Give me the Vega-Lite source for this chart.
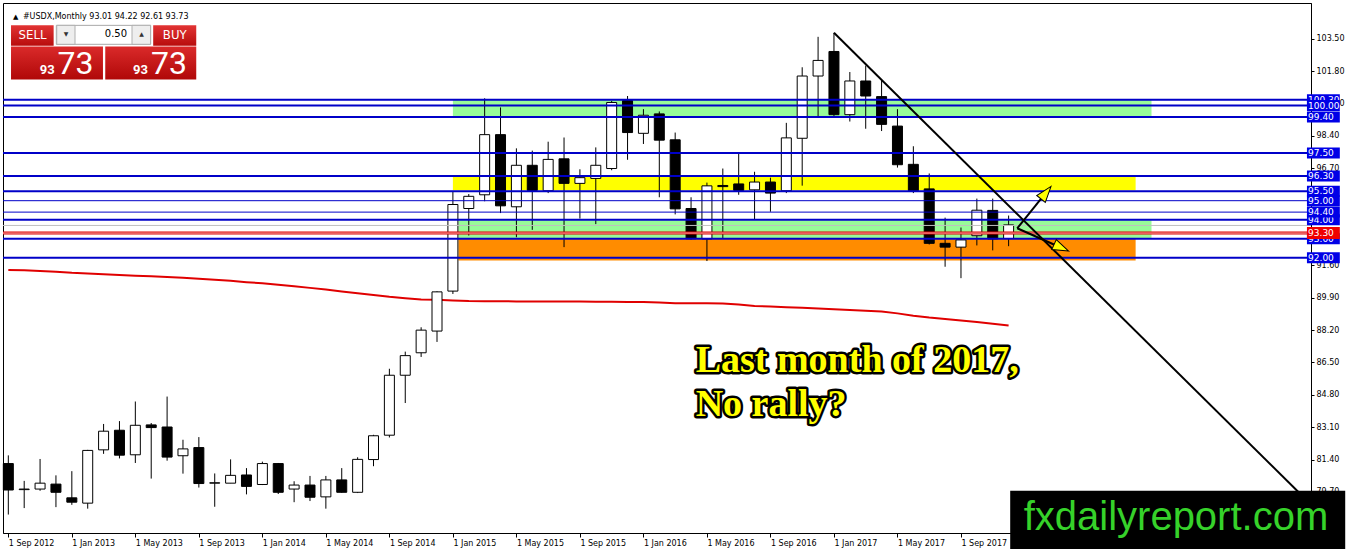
{
  "$schema": "https://vega.github.io/schema/vega-lite/v6.json",
  "width": 1308,
  "height": 530,
  "autosize": {"type": "none"},
  "padding": {"left": 3, "top": 3, "right": 39, "bottom": 21},
  "background": "white",
  "config": {
    "view": {"stroke": "black", "strokeWidth": 1},
    "axis": {
      "labelFont": "DejaVu Sans",
      "labelFontSize": 8,
      "labelColor": "black",
      "tickColor": "black",
      "domainColor": "black",
      "grid": false,
      "labelOverlap": false,
      "labelBound": false
    }
  },
  "data": {"values": [{}]},
  "datasets": {
    "candles": [
      {"i": 0, "month": "2012-09", "open": 81.19, "high": 81.62, "low": 78.51, "close": 79.8, "ma": 91.36},
      {"i": 1, "month": "2012-10", "open": 79.82, "high": 80.28, "low": 78.85, "close": 79.85, "ma": 91.34},
      {"i": 2, "month": "2012-11", "open": 79.85, "high": 81.43, "low": 79.76, "close": 80.16, "ma": 91.31},
      {"i": 3, "month": "2012-12", "open": 80.11, "high": 80.57, "low": 78.9, "close": 79.68, "ma": 91.27},
      {"i": 4, "month": "2013-01", "open": 79.39, "high": 80.79, "low": 79.02, "close": 79.16, "ma": 91.21},
      {"i": 5, "month": "2013-02", "open": 79.11, "high": 81.91, "low": 78.82, "close": 81.88, "ma": 91.17},
      {"i": 6, "month": "2013-03", "open": 81.91, "high": 83.27, "low": 81.7, "close": 82.89, "ma": 91.13},
      {"i": 7, "month": "2013-04", "open": 82.94, "high": 83.42, "low": 81.46, "close": 81.63, "ma": 91.1},
      {"i": 8, "month": "2013-05", "open": 81.65, "high": 84.45, "low": 81.22, "close": 83.2, "ma": 91.06},
      {"i": 9, "month": "2013-06", "open": 83.22, "high": 83.32, "low": 80.4, "close": 83.08, "ma": 91.03},
      {"i": 10, "month": "2013-07", "open": 83.11, "high": 84.71, "low": 81.34, "close": 81.53, "ma": 90.99},
      {"i": 11, "month": "2013-08", "open": 81.6, "high": 82.44, "low": 80.66, "close": 81.96, "ma": 90.95},
      {"i": 12, "month": "2013-09", "open": 82.03, "high": 82.58, "low": 79.93, "close": 80.14, "ma": 90.9},
      {"i": 13, "month": "2013-10", "open": 80.16, "high": 80.67, "low": 78.92, "close": 80.18, "ma": 90.85},
      {"i": 14, "month": "2013-11", "open": 80.16, "high": 81.41, "low": 80.16, "close": 80.57, "ma": 90.79},
      {"i": 15, "month": "2013-12", "open": 80.59, "high": 80.95, "low": 79.57, "close": 79.99, "ma": 90.72},
      {"i": 16, "month": "2014-01", "open": 80.09, "high": 81.29, "low": 80.06, "close": 81.19, "ma": 90.66},
      {"i": 17, "month": "2014-02", "open": 81.19, "high": 81.22, "low": 79.59, "close": 79.68, "ma": 90.59},
      {"i": 18, "month": "2014-03", "open": 79.85, "high": 80.26, "low": 79.16, "close": 80.06, "ma": 90.51},
      {"i": 19, "month": "2014-04", "open": 80.06, "high": 80.54, "low": 79.22, "close": 79.42, "ma": 90.42},
      {"i": 20, "month": "2014-05", "open": 79.44, "high": 80.54, "low": 78.82, "close": 80.33, "ma": 90.33},
      {"i": 21, "month": "2014-06", "open": 80.33, "high": 80.95, "low": 79.66, "close": 79.68, "ma": 90.23},
      {"i": 22, "month": "2014-07", "open": 79.68, "high": 81.52, "low": 79.64, "close": 81.41, "ma": 90.14},
      {"i": 23, "month": "2014-08", "open": 81.4, "high": 82.7, "low": 81.05, "close": 82.65, "ma": 90.05},
      {"i": 24, "month": "2014-09", "open": 82.68, "high": 86.17, "low": 82.56, "close": 85.83, "ma": 89.95},
      {"i": 25, "month": "2014-10", "open": 85.83, "high": 87.07, "low": 84.37, "close": 86.86, "ma": 89.88},
      {"i": 26, "month": "2014-11", "open": 87.01, "high": 88.35, "low": 86.79, "close": 88.2, "ma": 89.81},
      {"i": 27, "month": "2014-12", "open": 88.15, "high": 90.24, "low": 87.58, "close": 90.21, "ma": 89.79},
      {"i": 28, "month": "2015-01", "open": 90.25, "high": 95.49, "low": 90.1, "close": 94.8, "ma": 89.76},
      {"i": 29, "month": "2015-02", "open": 94.59, "high": 95.35, "low": 93.17, "close": 95.23, "ma": 89.73},
      {"i": 30, "month": "2015-03", "open": 95.31, "high": 100.38, "low": 94.97, "close": 98.47, "ma": 89.72},
      {"i": 31, "month": "2015-04", "open": 98.47, "high": 99.9, "low": 94.35, "close": 94.73, "ma": 89.72},
      {"i": 32, "month": "2015-05", "open": 94.68, "high": 97.75, "low": 93.08, "close": 96.86, "ma": 89.71},
      {"i": 33, "month": "2015-06", "open": 96.86, "high": 97.63, "low": 93.47, "close": 95.54, "ma": 89.71},
      {"i": 34, "month": "2015-07", "open": 95.52, "high": 98.1, "low": 95.4, "close": 97.17, "ma": 89.7},
      {"i": 35, "month": "2015-08", "open": 97.2, "high": 98.32, "low": 92.56, "close": 95.91, "ma": 89.7},
      {"i": 36, "month": "2015-09", "open": 95.91, "high": 96.65, "low": 94.06, "close": 96.21, "ma": 89.7},
      {"i": 37, "month": "2015-10", "open": 96.17, "high": 97.8, "low": 93.77, "close": 96.86, "ma": 89.69},
      {"i": 38, "month": "2015-11", "open": 96.69, "high": 100.24, "low": 96.6, "close": 100.16, "ma": 89.69},
      {"i": 39, "month": "2015-12", "open": 100.26, "high": 100.5, "low": 97.15, "close": 98.58, "ma": 89.68},
      {"i": 40, "month": "2016-01", "open": 98.54, "high": 99.81, "low": 97.98, "close": 99.49, "ma": 89.68},
      {"i": 41, "month": "2016-02", "open": 99.56, "high": 99.69, "low": 95.18, "close": 98.18, "ma": 89.65},
      {"i": 42, "month": "2016-03", "open": 98.2, "high": 98.58, "low": 94.28, "close": 94.57, "ma": 89.61},
      {"i": 43, "month": "2016-04", "open": 94.59, "high": 95.18, "low": 92.95, "close": 93.0, "ma": 89.61},
      {"i": 44, "month": "2016-05", "open": 92.99, "high": 95.95, "low": 91.83, "close": 95.78, "ma": 89.61},
      {"i": 45, "month": "2016-06", "open": 95.8, "high": 96.69, "low": 92.99, "close": 95.74, "ma": 89.6},
      {"i": 46, "month": "2016-07", "open": 95.88, "high": 97.49, "low": 95.31, "close": 95.54, "ma": 89.54},
      {"i": 47, "month": "2016-08", "open": 95.57, "high": 96.52, "low": 94.02, "close": 95.98, "ma": 89.47},
      {"i": 48, "month": "2016-09", "open": 95.98, "high": 96.21, "low": 94.42, "close": 95.4, "ma": 89.44},
      {"i": 49, "month": "2016-10", "open": 95.52, "high": 99.09, "low": 95.4, "close": 98.3, "ma": 89.4},
      {"i": 50, "month": "2016-11", "open": 98.28, "high": 102.01, "low": 95.79, "close": 101.55, "ma": 89.37},
      {"i": 51, "month": "2016-12", "open": 101.55, "high": 103.61, "low": 99.43, "close": 102.37, "ma": 89.34},
      {"i": 52, "month": "2017-01", "open": 102.84, "high": 103.82, "low": 99.45, "close": 99.52, "ma": 89.3},
      {"i": 53, "month": "2017-02", "open": 99.52, "high": 101.76, "low": 99.16, "close": 101.29, "ma": 89.26},
      {"i": 54, "month": "2017-03", "open": 101.29, "high": 102.1, "low": 98.78, "close": 100.5, "ma": 89.22},
      {"i": 55, "month": "2017-04", "open": 100.47, "high": 101.33, "low": 98.66, "close": 99.01, "ma": 89.18},
      {"i": 56, "month": "2017-05", "open": 98.92, "high": 99.81, "low": 96.74, "close": 96.89, "ma": 89.08},
      {"i": 57, "month": "2017-06", "open": 96.91, "high": 97.86, "low": 95.4, "close": 95.52, "ma": 88.96},
      {"i": 58, "month": "2017-07", "open": 95.62, "high": 96.43, "low": 92.7, "close": 92.76, "ma": 88.86},
      {"i": 59, "month": "2017-08", "open": 92.76, "high": 94.11, "low": 91.53, "close": 92.56, "ma": 88.78},
      {"i": 60, "month": "2017-09", "open": 92.56, "high": 93.59, "low": 90.93, "close": 92.94, "ma": 88.71},
      {"i": 61, "month": "2017-10", "open": 93.16, "high": 95.11, "low": 92.65, "close": 94.5, "ma": 88.63},
      {"i": 62, "month": "2017-11", "open": 94.49, "high": 95.11, "low": 92.39, "close": 92.99, "ma": 88.54},
      {"i": 63, "month": "2017-12", "open": 93.01, "high": 94.22, "low": 92.61, "close": 93.73, "ma": 88.44}
    ],
    "zones": [
      {"zone": "upper", "from": 28.0, "to": 72.0, "top": 100.33, "bottom": 99.4},
      {"zone": "middle", "from": 28.0, "to": 71.0, "top": 96.33, "bottom": 95.55},
      {"zone": "lower", "from": 28.35, "to": 72.0, "top": 93.97, "bottom": 93.0},
      {"zone": "base", "from": 28.35, "to": 71.0, "top": 93.0, "bottom": 91.86}
    ],
    "levels": [
      {"level": 100.3, "kind": "major"},
      {"level": 100.0, "kind": "major"},
      {"level": 99.4, "kind": "major"},
      {"level": 97.5, "kind": "major"},
      {"level": 96.3, "kind": "major"},
      {"level": 95.5, "kind": "major"},
      {"level": 95.0, "kind": "minor"},
      {"level": 94.4, "kind": "minor"},
      {"level": 94.0, "kind": "major"},
      {"level": 93.0, "kind": "major"},
      {"level": 92.0, "kind": "major"},
      {"level": 93.3, "kind": "alert"}
    ],
    "trend": [
      {"i": 52.0, "p": 103.82},
      {"i": 81.73, "p": 79.3}
    ],
    "arrowUp": [
      {"i": 63.54, "p": 93.552},
      {"i": 65.277, "p": 95.34}
    ],
    "arrowDown": [
      {"i": 63.54, "p": 93.552},
      {"i": 66.205, "p": 92.567}
    ]
  },
  "layer": [
    {
      "data": {"name": "zones"},
      "mark": {"type": "rect"},
      "encoding": {
        "x": {
          "field": "from",
          "type": "quantitative",
          "scale": {"domain": [-0.02, 81.73], "nice": false, "zero": false},
          "axis": {
            "title": null,
            "values": [0, 4, 8, 12, 16, 20, 24, 28, 32, 36, 40, 44, 48, 52, 56, 60],
            "tickCount": 40,
            "labelExpr": "'1 ' + ['Sep', 'Jan', 'May'][(datum.value / 4) % 3] + ' ' + (2012 + floor((datum.value + 8) / 12))",
            "labelAlign": "left",
            "labelBaseline": "top",
            "tickSize": 4,
            "labelPadding": 2,
            "labelFlush": false,
            "labelOverlap": false
          }
        },
        "x2": {"field": "to"},
        "y": {
          "field": "top",
          "type": "quantitative",
          "scale": {"domain": [77.804, 105.124], "nice": false, "zero": false},
          "axis": {
            "title": null,
            "orient": "right",
            "values": [79.7, 81.4, 83.1, 84.8, 86.5, 88.2, 89.9, 91.6, 93.3, 95.0, 96.7, 98.4, 100.1, 101.8, 103.5],
            "tickCount": 30,
            "format": ".2f",
            "tickSize": 3,
            "labelPadding": 2,
            "labelFlush": false,
            "labelOverlap": false
          }
        },
        "y2": {"field": "bottom"},
        "color": {
          "field": "zone",
          "type": "nominal",
          "scale": {"domain": ["upper", "middle", "lower", "base"], "range": ["#98FB98", "#FFFF00", "#98FB98", "#FF8C00"]},
          "legend": null
        }
      }
    },
    {
      "data": {"name": "candles"},
      "mark": {"type": "line", "color": "#E00000", "strokeWidth": 2},
      "encoding": {
        "x": {"field": "i", "type": "quantitative"},
        "y": {"field": "ma", "type": "quantitative"}
      }
    },
    {
      "data": {"name": "candles"},
      "mark": {"type": "rule", "color": "black", "strokeWidth": 1},
      "encoding": {
        "x": {"field": "i", "type": "quantitative"},
        "y": {"field": "low", "type": "quantitative"},
        "y2": {"field": "high"}
      }
    },
    {
      "data": {"name": "candles"},
      "mark": {"type": "bar", "size": 10, "stroke": "black", "strokeWidth": 1},
      "encoding": {
        "x": {"field": "i", "type": "quantitative"},
        "y": {"field": "open", "type": "quantitative"},
        "y2": {"field": "close"},
        "fill": {"condition": {"test": "datum.close >= datum.open", "value": "white"}, "value": "black"}
      }
    },
    {
      "mark": {"type": "rule", "color": "#C0C0C0", "strokeWidth": 1},
      "encoding": {"y": {"datum": 93.7, "type": "quantitative"}}
    },
    {
      "data": {"name": "levels"},
      "transform": [{"filter": "datum.kind == 'major'"}],
      "mark": {"type": "rule", "color": "#0000C8", "strokeWidth": 2},
      "encoding": {"y": {"field": "level", "type": "quantitative"}}
    },
    {
      "data": {"name": "levels"},
      "transform": [{"filter": "datum.kind == 'minor'"}],
      "mark": {"type": "rule", "color": "#0000C8", "strokeWidth": 1},
      "encoding": {"y": {"field": "level", "type": "quantitative"}}
    },
    {
      "data": {"name": "levels"},
      "transform": [{"filter": "datum.kind == 'alert'"}],
      "layer": [
        {"mark": {"type": "rule", "color": "#E00000", "strokeWidth": 3}, "encoding": {"y": {"field": "level", "type": "quantitative"}}},
        {"mark": {"type": "rule", "color": "#F3B0B0", "strokeWidth": 1}, "encoding": {"y": {"field": "level", "type": "quantitative"}}}
      ]
    },
    {
      "data": {"name": "trend"},
      "mark": {"type": "line", "color": "black", "strokeWidth": 2},
      "encoding": {
        "x": {"field": "i", "type": "quantitative"},
        "y": {"field": "p", "type": "quantitative"}
      }
    },
    {
      "data": {"name": "arrowUp"},
      "mark": {"type": "line", "color": "black", "strokeWidth": 2},
      "encoding": {
        "x": {"field": "i", "type": "quantitative"},
        "y": {"field": "p", "type": "quantitative"}
      }
    },
    {
      "data": {"name": "arrowDown"},
      "mark": {"type": "line", "color": "black", "strokeWidth": 2},
      "encoding": {
        "x": {"field": "i", "type": "quantitative"},
        "y": {"field": "p", "type": "quantitative"}
      }
    },
    {
      "mark": {"type": "point", "shape": "M0,-1L0.55,0.6L-0.55,0.6Z", "size": 400, "angle": 38.7, "filled": true, "fill": "#FFFF00", "stroke": "black", "strokeWidth": 1, "opacity": 1},
      "encoding": {
        "x": {"datum": 65.277, "type": "quantitative"},
        "y": {"datum": 95.34, "type": "quantitative"}
      }
    },
    {
      "mark": {"type": "point", "shape": "M0,-1L0.55,0.6L-0.55,0.6Z", "size": 400, "angle": 114.2, "filled": true, "fill": "#FFFF00", "stroke": "black", "strokeWidth": 1, "opacity": 1},
      "encoding": {
        "x": {"datum": 66.205, "type": "quantitative"},
        "y": {"datum": 92.567, "type": "quantitative"}
      }
    },
    {
      "mark": {"type": "text", "align": "left", "baseline": "alphabetic", "font": "Liberation Serif", "fontWeight": "bold", "fontSize": 38, "lineHeight": 44, "fill": "black", "stroke": "black", "strokeWidth": 5, "strokeJoin": "round"},
      "encoding": {
        "x": {"datum": 43.29, "type": "quantitative"},
        "y": {"datum": 85.985, "type": "quantitative"},
        "text": {"value": ["Last month of 2017,", "No rally?"]}
      }
    },
    {
      "mark": {"type": "text", "align": "left", "baseline": "alphabetic", "font": "Liberation Serif", "fontWeight": "bold", "fontSize": 38, "lineHeight": 44, "fill": "#FFFF00"},
      "encoding": {
        "x": {"datum": 43.29, "type": "quantitative"},
        "y": {"datum": 85.985, "type": "quantitative"},
        "text": {"value": ["Last month of 2017,", "No rally?"]}
      }
    },
    {
      "data": {"name": "levels"},
      "transform": [{"filter": {"field": "level", "oneOf": [100.3, 94.0, 93.0]}}],
      "layer": [
        {
          "mark": {"type": "bar", "orient": "horizontal", "size": 11, "color": "#0000E6", "clip": false},
          "encoding": {
            "x": {"datum": 81.79, "type": "quantitative"},
            "x2": {"datum": 83.86},
            "y": {"field": "level", "type": "quantitative"}
          }
        },
        {
          "mark": {"type": "text", "align": "left", "baseline": "middle", "color": "white", "font": "DejaVu Sans", "fontSize": 9, "clip": false},
          "encoding": {
            "x": {"datum": 81.86, "type": "quantitative"},
            "y": {"field": "level", "type": "quantitative"},
            "text": {"field": "level", "type": "quantitative", "format": ".2f"}
          }
        }
      ]
    },
    {
      "data": {"name": "levels"},
      "transform": [{"filter": "datum.kind != 'alert' && indexof([100.3, 94.0, 93.0], datum.level) < 0"}],
      "layer": [
        {
          "mark": {"type": "bar", "orient": "horizontal", "size": 11, "color": "#0000E6", "clip": false},
          "encoding": {
            "x": {"datum": 81.79, "type": "quantitative"},
            "x2": {"datum": 83.86},
            "y": {"field": "level", "type": "quantitative"}
          }
        },
        {
          "mark": {"type": "text", "align": "left", "baseline": "middle", "color": "white", "font": "DejaVu Sans", "fontSize": 9, "clip": false},
          "encoding": {
            "x": {"datum": 81.86, "type": "quantitative"},
            "y": {"field": "level", "type": "quantitative"},
            "text": {"field": "level", "type": "quantitative", "format": ".2f"}
          }
        }
      ]
    },
    {
      "data": {"name": "levels"},
      "transform": [{"filter": "datum.kind == 'alert'"}],
      "layer": [
        {
          "mark": {"type": "bar", "orient": "horizontal", "size": 12, "color": "#F00000", "clip": false},
          "encoding": {
            "x": {"datum": 81.79, "type": "quantitative"},
            "x2": {"datum": 83.86},
            "y": {"field": "level", "type": "quantitative"}
          }
        },
        {
          "mark": {"type": "text", "align": "left", "baseline": "middle", "color": "white", "font": "DejaVu Sans", "fontSize": 9, "clip": false},
          "encoding": {
            "x": {"datum": 81.86, "type": "quantitative"},
            "y": {"field": "level", "type": "quantitative"},
            "text": {"field": "level", "type": "quantitative", "format": ".2f"}
          }
        }
      ]
    },
    {
      "mark": {"type": "text", "align": "left", "baseline": "alphabetic", "font": "DejaVu Sans", "fontSize": 7, "color": "black"},
      "encoding": {
        "x": {"datum": 0.3, "type": "quantitative"},
        "y": {"datum": 104.557, "type": "quantitative"},
        "text": {"value": "▲"}
      }
    },
    {
      "mark": {"type": "text", "align": "left", "baseline": "alphabetic", "font": "DejaVu Sans", "fontSize": 8, "color": "black"},
      "encoding": {
        "x": {"datum": 0.918, "type": "quantitative"},
        "y": {"datum": 104.557, "type": "quantitative"},
        "text": {"value": "#USDX,Monthly  93.01 94.22 92.61 93.73"}
      }
    },
    {
      "mark": {"type": "rect", "fill": {"gradient": "linear", "x1": 0, "y1": 0, "x2": 0, "y2": 1, "stops": [{"offset": 0, "color": "#E23434"}, {"offset": 1, "color": "#B80D0D"}]}},
      "encoding": {
        "x": {"datum": 0.17, "type": "quantitative"},
        "x2": {"datum": 2.855},
        "y": {"datum": 104.222, "type": "quantitative"},
        "y2": {"datum": 103.14}
      }
    },
    {
      "mark": {"type": "rect", "fill": {"gradient": "linear", "x1": 0, "y1": 0, "x2": 0, "y2": 1, "stops": [{"offset": 0, "color": "#E23434"}, {"offset": 1, "color": "#B80D0D"}]}},
      "encoding": {
        "x": {"datum": 9.124, "type": "quantitative"},
        "x2": {"datum": 11.836},
        "y": {"datum": 104.222, "type": "quantitative"},
        "y2": {"datum": 103.14}
      }
    },
    {
      "mark": {"type": "rect", "fill": {"gradient": "linear", "x1": 0, "y1": 0, "x2": 0, "y2": 1, "stops": [{"offset": 0, "color": "#DA2A2A"}, {"offset": 1, "color": "#B00808"}]}},
      "encoding": {
        "x": {"datum": 0.17, "type": "quantitative"},
        "x2": {"datum": 5.961},
        "y": {"datum": 103.098, "type": "quantitative"},
        "y2": {"datum": 101.361}
      }
    },
    {
      "mark": {"type": "rect", "fill": {"gradient": "linear", "x1": 0, "y1": 0, "x2": 0, "y2": 1, "stops": [{"offset": 0, "color": "#DA2A2A"}, {"offset": 1, "color": "#B00808"}]}},
      "encoding": {
        "x": {"datum": 6.105, "type": "quantitative"},
        "x2": {"datum": 11.836},
        "y": {"datum": 103.098, "type": "quantitative"},
        "y2": {"datum": 101.361}
      }
    },
    {
      "mark": {"type": "rect", "fill": "white", "stroke": "#A8A8A8", "strokeWidth": 1},
      "encoding": {
        "x": {"datum": 3.024, "type": "quantitative"},
        "x2": {"datum": 8.961},
        "y": {"datum": 104.212, "type": "quantitative"},
        "y2": {"datum": 103.217}
      }
    },
    {
      "mark": {"type": "rect", "fill": "#EEEEEE", "stroke": "#B0B0B0", "strokeWidth": 1},
      "encoding": {
        "x": {"datum": 3.05, "type": "quantitative"},
        "x2": {"datum": 4.2},
        "y": {"datum": 104.212, "type": "quantitative"},
        "y2": {"datum": 103.217}
      }
    },
    {
      "mark": {"type": "rect", "fill": "#EEEEEE", "stroke": "#B0B0B0", "strokeWidth": 1},
      "encoding": {
        "x": {"datum": 7.79, "type": "quantitative"},
        "x2": {"datum": 8.96},
        "y": {"datum": 104.212, "type": "quantitative"},
        "y2": {"datum": 103.217}
      }
    },
    {
      "mark": {"type": "text", "align": "center", "baseline": "middle", "font": "DejaVu Sans Condensed", "fontSize": 13, "color": "white"},
      "encoding": {
        "x": {"datum": 1.524, "type": "quantitative"},
        "y": {"datum": 103.681, "type": "quantitative"},
        "text": {"value": "SELL"}
      }
    },
    {
      "mark": {"type": "text", "align": "center", "baseline": "middle", "font": "DejaVu Sans Condensed", "fontSize": 13, "color": "white"},
      "encoding": {
        "x": {"datum": 10.48, "type": "quantitative"},
        "y": {"datum": 103.681, "type": "quantitative"},
        "text": {"value": "BUY"}
      }
    },
    {
      "mark": {"type": "text", "align": "right", "baseline": "middle", "font": "DejaVu Sans", "fontSize": 10, "color": "black"},
      "encoding": {
        "x": {"datum": 7.48, "type": "quantitative"},
        "y": {"datum": 103.732, "type": "quantitative"},
        "text": {"value": "0.50"}
      }
    },
    {
      "mark": {"type": "text", "align": "center", "baseline": "middle", "font": "DejaVu Sans", "fontSize": 6, "color": "#333333"},
      "encoding": {
        "x": {"datum": 3.64, "type": "quantitative"},
        "y": {"datum": 103.732, "type": "quantitative"},
        "text": {"value": "▼"}
      }
    },
    {
      "mark": {"type": "text", "align": "center", "baseline": "middle", "font": "DejaVu Sans", "fontSize": 6, "color": "#333333"},
      "encoding": {
        "x": {"datum": 8.39, "type": "quantitative"},
        "y": {"datum": 103.732, "type": "quantitative"},
        "text": {"value": "▲"}
      }
    },
    {
      "mark": {"type": "text", "align": "left", "baseline": "alphabetic", "font": "Roboto", "fontSize": 13, "fontWeight": "bold", "color": "white"},
      "encoding": {
        "x": {"datum": 1.98, "type": "quantitative"},
        "y": {"datum": 101.67, "type": "quantitative"},
        "text": {"value": "93"}
      }
    },
    {
      "mark": {"type": "text", "align": "left", "baseline": "alphabetic", "font": "Roboto", "fontSize": 32, "color": "white"},
      "encoding": {
        "x": {"datum": 3.105, "type": "quantitative"},
        "y": {"datum": 101.67, "type": "quantitative"},
        "text": {"value": "73"}
      }
    },
    {
      "mark": {"type": "text", "align": "left", "baseline": "alphabetic", "font": "Roboto", "fontSize": 13, "fontWeight": "bold", "color": "white"},
      "encoding": {
        "x": {"datum": 7.855, "type": "quantitative"},
        "y": {"datum": 101.67, "type": "quantitative"},
        "text": {"value": "93"}
      }
    },
    {
      "mark": {"type": "text", "align": "left", "baseline": "alphabetic", "font": "Roboto", "fontSize": 32, "color": "white"},
      "encoding": {
        "x": {"datum": 8.98, "type": "quantitative"},
        "y": {"datum": 101.67, "type": "quantitative"},
        "text": {"value": "73"}
      }
    },
    {
      "mark": {"type": "rect", "color": "black", "clip": false},
      "encoding": {
        "x": {"datum": 63.1, "type": "quantitative"},
        "x2": {"datum": 84.2},
        "y": {"datum": 79.764, "type": "quantitative"},
        "y2": {"datum": 76.7}
      }
    },
    {
      "mark": {"type": "text", "align": "center", "baseline": "alphabetic", "font": "Liberation Sans", "fontSize": 40, "color": "#36D22A", "clip": false},
      "encoding": {
        "x": {"datum": 73.54, "type": "quantitative"},
        "y": {"datum": 77.7, "type": "quantitative"},
        "text": {"value": "fxdailyreport.com"}
      }
    }
  ]
}
